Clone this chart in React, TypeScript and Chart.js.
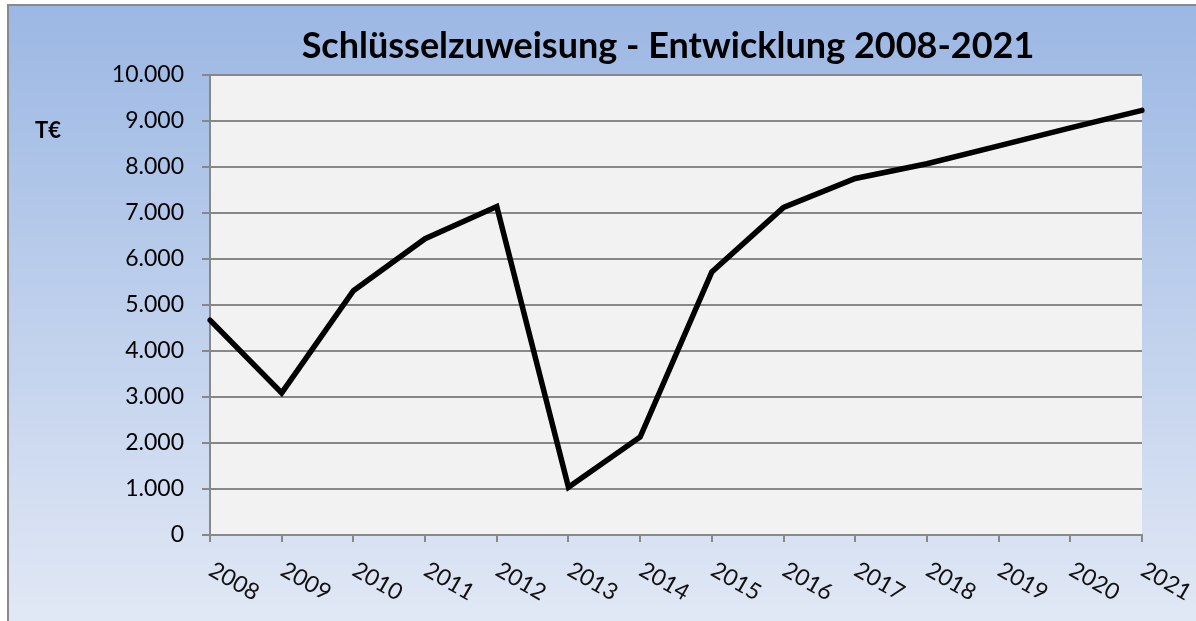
import React, { useEffect, useRef } from 'react';
import { Chart, registerables } from 'chart.js';

Chart.register(...registerables);

const years = ['2008', '2009', '2010', '2011', '2012', '2013', '2014', '2015', '2016', '2017', '2018', '2019', '2020', '2021'];
const values = [4670, 3090, 5310, 6440, 7140, 1040, 2130, 5720, 7120, 7750, 8070, 8460, 8850, 9230];
const yMin = 0;
const yMax = 10000;
const yStep = 1000;
const titleText = 'Schlüsselzuweisung - Entwicklung 2008-2021';
const unitText = 'T€';

const FONT = 'Lato, "Open Sans", "DejaVu Sans", sans-serif';

const fmt = (v: number) => String(Math.round(v)).replace(/\B(?=(\d{3})+(?!\d))/g, '.');

export default function App() {
  const ref = useRef<HTMLCanvasElement>(null);

  useEffect(() => {
    document.body.style.margin = '0';
    const canvas = ref.current!;

    const decor = {
      id: 'decor',
      beforeDraw(chart: any) {
        const { ctx, width, height, chartArea } = chart;
        ctx.save();
        ctx.fillStyle = '#ffffff';
        ctx.fillRect(0, 0, width, height);
        const g = ctx.createLinearGradient(0, 4, 0, height);
        g.addColorStop(0, '#9bb7e3');
        g.addColorStop(1, '#e1e8f5');
        ctx.fillStyle = g;
        ctx.fillRect(8, 4, width - 8, height - 4);
        ctx.strokeStyle = '#8a8a8a';
        ctx.lineWidth = 2;
        ctx.beginPath();
        ctx.moveTo(8, height + 5);
        ctx.lineTo(8, 5);
        ctx.lineTo(width + 5, 5);
        ctx.stroke();
        ctx.fillStyle = '#f2f2f2';
        ctx.fillRect(chartArea.left, chartArea.top, chartArea.right - chartArea.left, chartArea.bottom - chartArea.top);
        ctx.restore();
      },
      afterDraw(chart: any) {
        const { ctx } = chart;
        const xs = chart.scales.x;
        ctx.save();
        ctx.fillStyle = '#000';
        ctx.font = `bold 36px ${FONT}`;
        ctx.textAlign = 'center';
        ctx.textBaseline = 'alphabetic';
        ctx.fillText(titleText, 668, 58);
        ctx.font = `bold 22px ${FONT}`;
        ctx.textAlign = 'left';
        ctx.textBaseline = 'middle';
        ctx.fillText(unitText, 35, 131);
        ctx.font = `23px ${FONT}`;
        ctx.fillStyle = '#111';
        years.forEach((y, i) => {
          const x = xs.getPixelForValue(i);
          ctx.save();
          ctx.translate(x + 1, 568);
          ctx.rotate((30 * Math.PI) / 180);
          ctx.textAlign = 'left';
          ctx.textBaseline = 'middle';
          ctx.fillText(y, 0, 0);
          ctx.restore();
        });
        ctx.restore();
      },
    };

    const chart = new Chart(canvas, {
      type: 'line',
      data: {
        labels: years,
        datasets: [
          {
            data: values,
            borderColor: '#000000',
            borderWidth: 5.5,
            pointRadius: 0,
            pointHoverRadius: 0,
            tension: 0,
            fill: false,
            borderCapStyle: 'round',
            borderJoinStyle: 'miter',
          },
        ],
      },
      options: {
        responsive: false,
        animation: false,
        devicePixelRatio: 1,
        layout: { padding: { top: 75, right: 54, left: 0, bottom: 0 } },
        plugins: { legend: { display: false }, title: { display: false }, tooltip: { enabled: false } },
        scales: {
          x: {
            offset: false,
            ticks: { display: false },
            grid: { drawOnChartArea: false, drawTicks: true, tickLength: 7, color: '#888888', lineWidth: 2 },
            border: { color: '#888888', width: 2 },
            afterFit: (s: any) => {
              s.height = 86;
            },
          },
          y: {
            min: yMin,
            max: yMax,
            ticks: {
              stepSize: yStep,
              padding: 18,
              color: '#000',
              font: { family: FONT, size: 23 },
              callback: (v: any) => fmt(Number(v)),
            },
            grid: { color: '#878787', lineWidth: 2, drawTicks: true, tickLength: 8 },
            border: { color: '#888888', width: 2 },
            afterFit: (s: any) => {
              s.width = 210;
            },
          },
        },
      },
      plugins: [decor],
    });
    return () => chart.destroy();
  }, []);

  return (
    <div style={{ width: 1196, height: 621 }}>
      <canvas ref={ref} width={1196} height={621} style={{ display: 'block' }} />
    </div>
  );
}
